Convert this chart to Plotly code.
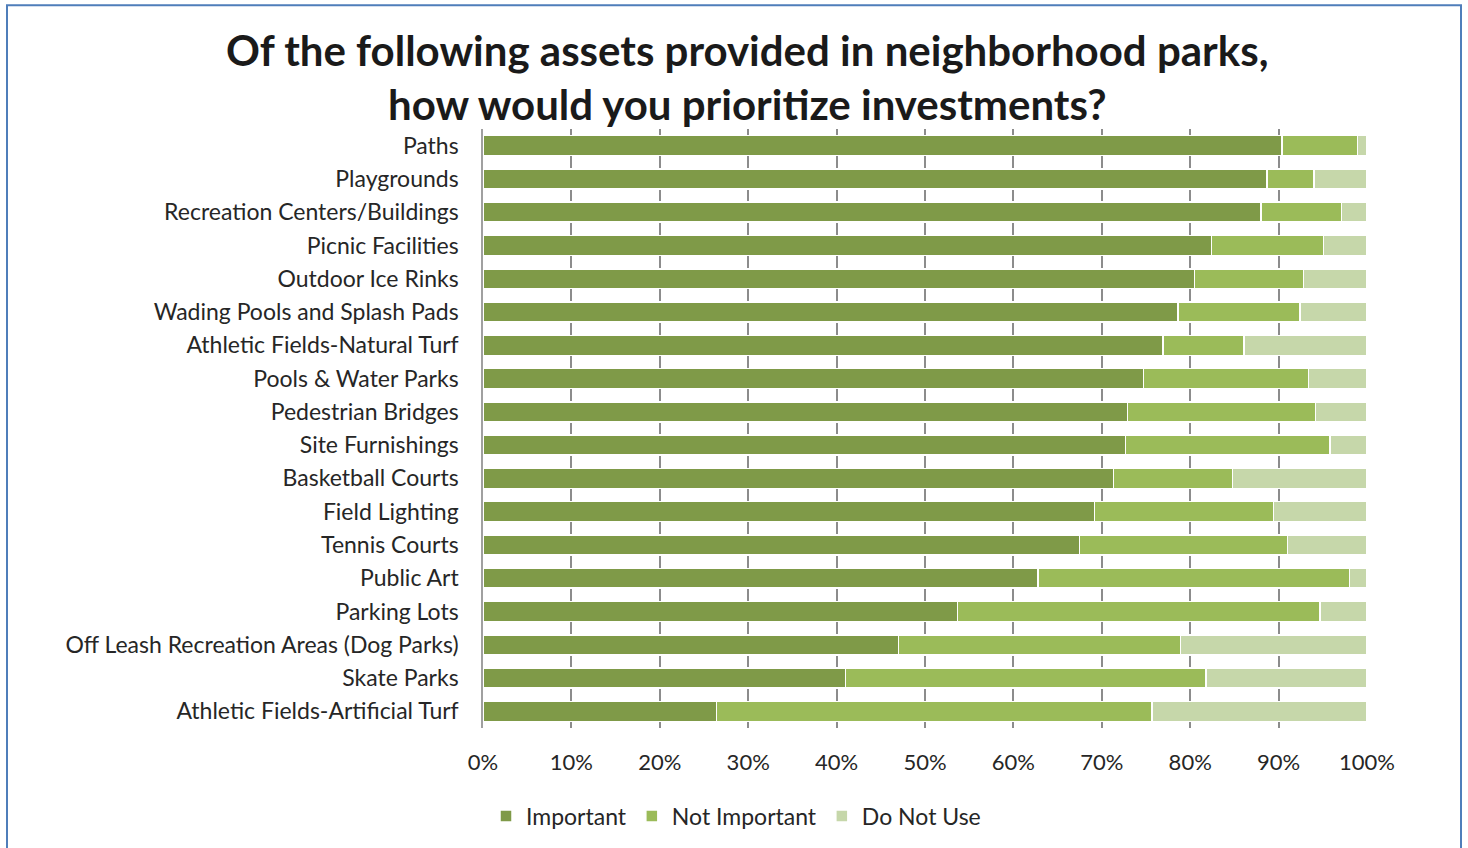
import plotly.graph_objects as go

# Survey results: share of respondents per asset (percent)
assets = [
    "Paths", "Playgrounds", "Recreation Centers/Buildings", "Picnic Facilities",
    "Outdoor Ice Rinks", "Wading Pools and Splash Pads", "Athletic Fields-Natural Turf",
    "Pools & Water Parks", "Pedestrian Bridges", "Site Furnishings", "Basketball Courts",
    "Field Lighting", "Tennis Courts", "Public Art", "Parking Lots",
    "Off Leash Recreation Areas (Dog Parks)", "Skate Parks", "Athletic Fields-Artificial Turf",
]
important = [90.4, 88.7, 88.0, 82.4, 80.5, 78.6, 76.9, 74.7, 72.9, 72.7,
             71.3, 69.2, 67.5, 62.8, 53.7, 47.0, 41.0, 26.4]
not_important = [8.5, 5.3, 9.1, 12.7, 12.3, 13.8, 9.2, 18.7, 21.3, 23.1,
                 13.5, 20.2, 23.5, 35.2, 41.0, 31.9, 40.8, 49.3]
do_not_use = [1.1, 6.0, 2.9, 4.9, 7.2, 7.6, 13.9, 6.6, 5.8, 4.2,
              15.2, 10.6, 9.0, 2.0, 5.3, 21.1, 18.2, 24.3]

series_names = ["Important", "Not Important", "Do Not Use"]
series_colors = ["#7F9A48", "#9BBB59", "#C6D7AA"]
x_ticks = [0, 10, 20, 30, 40, 50, 60, 70, 80, 90, 100]
x_tick_text = [f"{v}%" for v in x_ticks]

W, H = 1468, 848
ML, MR, MT, MB = 483, 101, 129, 119
PW, PH = W - ML - MR, H - MT - MB


def xp(px):
    return (px - ML) / PW


def yp(py):
    return (H - MB - py) / PH


FONT = "Lato"

fig = go.Figure()
for name, vals, col in zip(series_names, [important, not_important, do_not_use], series_colors):
    fig.add_trace(go.Bar(
        y=assets, x=vals, name=name, orientation="h",
        marker=dict(color=col, line=dict(color="white", width=1.5)),
    ))

fig.update_layout(
    width=W, height=H,
    margin=dict(l=ML, r=MR, t=MT, b=MB),
    barmode="stack", bargap=0.4,
    paper_bgcolor="white", plot_bgcolor="white",
    font=dict(family=FONT, color="#262626", size=23),
    showlegend=True,
    legend=dict(orientation="h", xanchor="center", x=xp(736), yanchor="middle", y=yp(816),
                font=dict(size=23, family=FONT), traceorder="normal",
                itemwidth=30, entrywidthmode="pixels"),
    xaxis=dict(range=[0, 100], tickvals=x_ticks, ticktext=x_tick_text,
               showgrid=True, gridcolor="#8C8C8C", gridwidth=1.5,
               zeroline=False, showline=False, ticks="",
               ticklabelstandoff=19, tickfont=dict(size=22)),
    yaxis=dict(autorange="reversed", showgrid=False, showline=True,
               linecolor="#A0A0A0", linewidth=1.5, ticks="",
               ticklabelstandoff=18, tickfont=dict(size=23)),
)

# Two-line bold title
fig.add_annotation(text="Of the following assets provided in neighborhood parks,",
                   xref="paper", yref="paper", x=xp(747), y=yp(50),
                   xanchor="center", yanchor="middle", showarrow=False,
                   font=dict(size=42, family=FONT, color="#1A1A1A", weight="bold"))
fig.add_annotation(text="how would you prioritize investments?",
                   xref="paper", yref="paper", x=xp(747), y=yp(104),
                   xanchor="center", yanchor="middle", showarrow=False,
                   font=dict(size=42, family=FONT, color="#1A1A1A", weight="bold"))

# Outer frame
fig.add_shape(type="rect", xref="paper", yref="paper",
              x0=xp(7), x1=xp(1461), y0=yp(5), y1=yp(870),
              line=dict(color="#4F7EBA", width=2), fillcolor="rgba(0,0,0,0)", layer="above")

fig.write_html("out.html")
